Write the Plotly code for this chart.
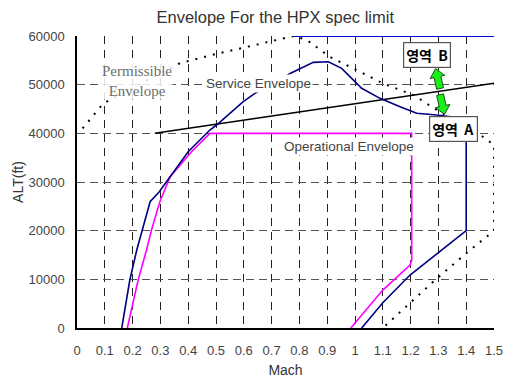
import plotly.graph_objects as go

# ---------------- data ----------------
x_ticks = [0, 0.1, 0.2, 0.3, 0.4, 0.5, 0.6, 0.7, 0.8, 0.9, 1, 1.1, 1.2, 1.3, 1.4, 1.5]
y_ticks = [0, 10000, 20000, 30000, 40000, 50000, 60000]

# Service envelope (navy)
service_mach = [0.161, 0.19, 0.215, 0.236, 0.263, 0.296, 0.335, 0.40, 0.478, 0.502, 0.598, 0.64,
                0.772, 0.85, 0.904, 0.952, 1.024, 1.09, 1.162, 1.222, 1.294, 1.33, 1.40,
                1.40, 1.306, 1.198, 1.10, 1.024]
service_alt = [0, 9860, 16030, 20140, 25950, 28000, 31090, 36230, 40680, 41710, 46500, 48220,
               52450, 54590, 54720, 53350, 49250, 47190, 45470, 44110, 43760, 43500, 43000,
               20000, 15680, 10890, 5200, 0]

# Ceiling line (blue)
ceiling_mach = [0.78, 1.5]
ceiling_alt = [60000, 60000]

# Operational envelope (magenta)
op_mach = [0.181, 0.22, 0.25, 0.268, 0.298, 0.335, 0.412, 0.478, 1.204, 1.204, 1.198, 1.10, 0.985]
op_alt = [0, 9860, 16030, 20140, 25950, 31090, 36230, 40000, 40000, 13970, 12940, 7800, 0]

# Permissible envelope (dotted)
perm_mach = [0.02, 0.095, 0.13, 0.37, 0.50, 0.70, 0.78, 0.826, 0.91, 1.006, 1.10, 1.21, 1.294,
             1.46, 1.50, 1.50, 1.40, 1.288, 1.21, 1.10]
perm_alt = [41000, 46170, 47200, 54400, 56300, 59000, 60000, 59200, 55700, 53000, 50270, 47870,
            44800, 39300, 37600, 20000, 15340, 9860, 5750, 0]

# Straight black reference line
ref_mach = [0.28, 1.5]
ref_alt = [40000, 50300]

# Arrows (start -> tip) in data units
arrow_up = [(1.306, 49200), (1.290, 53300)]
arrow_down = [(1.306, 47950), (1.322, 43900)]

# ---------------- layout geometry ----------------
W, H = 505, 381
ML, MR, MT, MB = 77, 11, 36, 53
XR = [0, 1.5]
YR = [0, 60000]
sx = (W - ML - MR) / (XR[1] - XR[0])
sy = (H - MT - MB) / (YR[1] - YR[0])

FONT = "Liberation Sans, Arial, sans-serif"

fig = go.Figure()

fig.add_trace(go.Scatter(x=perm_mach, y=perm_alt, mode="lines",
                         line=dict(color="black", width=2, dash="2px,7px"), hoverinfo="skip"))
fig.add_trace(go.Scatter(x=ref_mach, y=ref_alt, mode="lines",
                         line=dict(color="black", width=1.5), hoverinfo="skip"))
fig.add_trace(go.Scatter(x=op_mach, y=op_alt, mode="lines",
                         line=dict(color="#FF00FF", width=1.6), hoverinfo="skip"))
fig.add_trace(go.Scatter(x=service_mach, y=service_alt, mode="lines",
                         line=dict(color="#000080", width=1.6), hoverinfo="skip"))
fig.add_trace(go.Scatter(x=ceiling_mach, y=ceiling_alt, mode="lines",
                         line=dict(color="#0000E0", width=2), hoverinfo="skip"))


def block_arrow(p0, p1, body=3.5, head=7.5, head_len=8.5):
    # work in pixel space, convert back to data units
    x0, y0 = p0[0] * sx, p0[1] * sy
    x1, y1 = p1[0] * sx, p1[1] * sy
    dx, dy = x1 - x0, y1 - y0
    L = (dx * dx + dy * dy) ** 0.5
    ux, uy = dx / L, dy / L
    px, py = -uy, ux
    bx, by = x1 - ux * head_len, y1 - uy * head_len
    pts = [
        (x0 + px * body, y0 + py * body),
        (bx + px * body, by + py * body),
        (bx + px * head, by + py * head),
        (x1, y1),
        (bx - px * head, by - py * head),
        (bx - px * body, by - py * body),
        (x0 - px * body, y0 - py * body),
    ]
    path = "M " + " L ".join(f"{a / sx:.5f},{b / sy:.2f}" for a, b in pts) + " Z"
    return dict(type="path", path=path, xref="x", yref="y",
                fillcolor="#19F019", line=dict(color="#1F4F1F", width=1), layer="above")


fig.add_shape(block_arrow(*arrow_up))
fig.add_shape(block_arrow(*arrow_down))

# text labels
fig.add_annotation(x=0.215, y=50700, xref="x", yref="y", text="Permissible<br>Envelope",
                   showarrow=False, font=dict(family="Liberation Serif, serif", size=15, color="#6e6e6e"),
                   bgcolor="rgba(255,255,255,0.85)", borderpad=0)
fig.add_annotation(x=0.653, y=50300, xref="x", yref="y", text="Service Envelope",
                   showarrow=False, font=dict(family=FONT, size=13.5, color="#444"),
                   bgcolor="white", borderpad=1)
fig.add_annotation(x=0.98, y=37300, xref="x", yref="y", text="Operational Envelope",
                   showarrow=False, font=dict(family=FONT, size=13.5, color="#444"),
                   bgcolor="white", borderpad=1)
fig.add_annotation(x=1.259, y=56000, xref="x", yref="y", text="<b>영역&nbsp; B</b>",
                   showarrow=False, font=dict(family="Noto Sans CJK KR", size=14, color="black"),
                   bgcolor="white", bordercolor="#555", borderwidth=1.2, borderpad=2)
fig.add_annotation(x=1.356, y=40900, xref="x", yref="y", text="<b>영역&nbsp; A</b>",
                   showarrow=False, font=dict(family="Noto Sans CJK KR", size=14, color="black"),
                   bgcolor="white", bordercolor="#555", borderwidth=1.2, borderpad=2)

fig.update_layout(
    width=W, height=H,
    margin=dict(l=ML, r=MR, t=MT, b=MB, autoexpand=False),
    paper_bgcolor="white", plot_bgcolor="white",
    showlegend=False,
    title=dict(text="Envelope For the HPX spec limit", x=0.545, xanchor="center",
               y=0.955, yanchor="middle", font=dict(family=FONT, size=16.5, color="#333")),
    font=dict(family=FONT, color="#444"),
)
fig.update_xaxes(range=XR, tickvals=x_ticks, ticktext=[f"{v:g}" for v in x_ticks],
                 showgrid=True, gridcolor="#222", gridwidth=1, griddash="8px,6px",
                 showline=True, linecolor="black", linewidth=1.5, zeroline=False, automargin=False,
                 ticks="", ticklabelstandoff=10, tickfont=dict(size=13, color="#444"),
                 title=dict(text="Mach", font=dict(size=14, color="#333"), standoff=8))
fig.update_yaxes(range=YR, tickvals=y_ticks, ticktext=[str(v) for v in y_ticks],
                 showgrid=True, gridcolor="#555", gridwidth=1, griddash="8px,5px",
                 showline=True, linecolor="black", linewidth=1.5, zeroline=False, automargin=False,
                 ticks="", ticklabelstandoff=8, tickfont=dict(size=13, color="#444"),
                 title=dict(text="ALT(ft)", font=dict(size=14, color="#333"), standoff=2))

fig.write_html("out.html")
